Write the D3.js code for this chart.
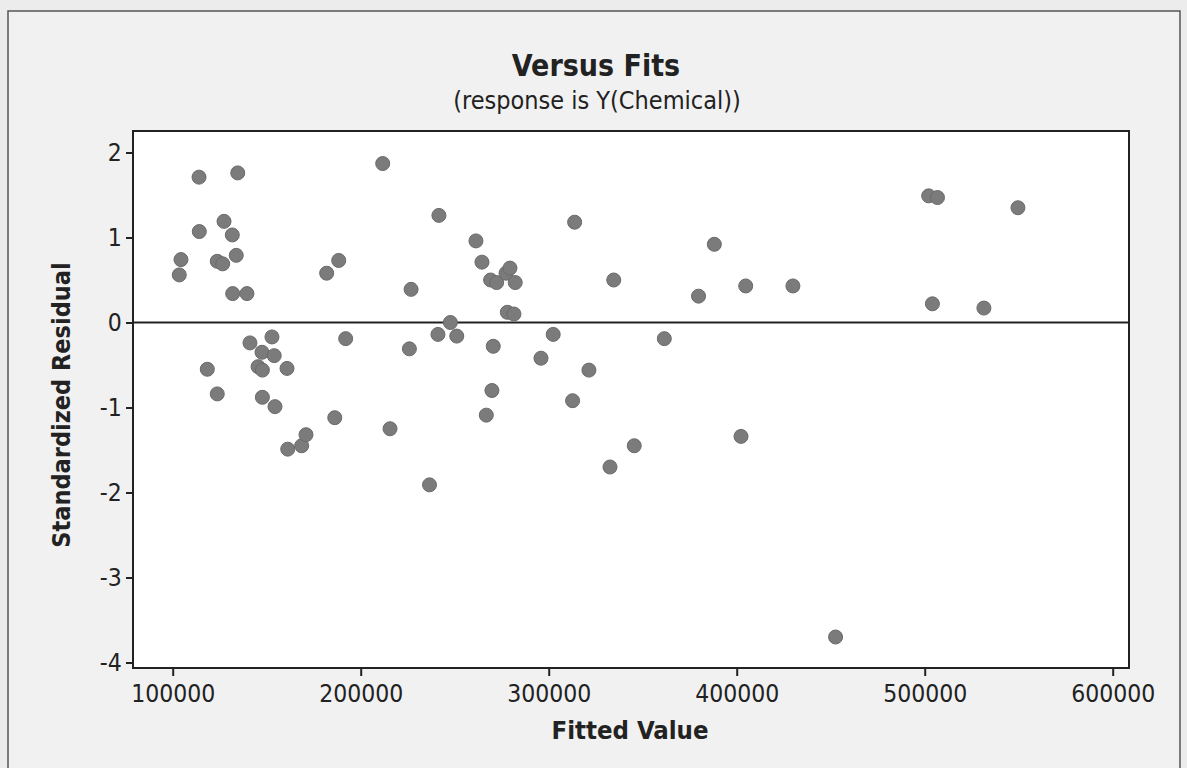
<!DOCTYPE html>
<html>
<head>
<meta charset="utf-8">
<script src="https://cdn.jsdelivr.net/npm/d3@7/dist/d3.min.js"></script>
<style>
  html, body { margin: 0; padding: 0; background: #ececec; }
  svg { display: block; }
</style>
</head>
<body>
<script>
// fitted values and standardized residuals
const fitted = [
  103500, 104400, 114000, 114150, 118400, 123700, 123700, 126600, 127300, 131700,
  133800, 134600, 131900, 139500, 141100, 145400, 147700, 147500, 152800, 154000,
  147700, 154400, 160800, 161200, 168600, 170900, 181900, 188300, 192000, 186200,
  211700, 215600, 225900, 226800, 236600, 241600, 241100, 247700, 251100, 261300,
  264500, 266800, 269800, 269100, 272300, 270500, 277300, 279400, 282200, 278000,
  281500, 295900, 302400, 312700, 313800, 321400, 332600, 334600, 345500, 361500,
  379700, 388100, 402300, 404800, 429900, 452600, 502100, 506800, 504100, 531500,
  549600
];
const residuals = [
  0.56, 0.74, 1.71, 1.07, -0.55, -0.84, 0.72, 0.69, 1.19, 1.03,
  0.79, 1.76, 0.34, 0.34, -0.24, -0.52, -0.56, -0.35, -0.17, -0.39,
  -0.88, -0.99, -0.54, -1.49, -1.45, -1.32, 0.58, 0.73, -0.19, -1.12,
  1.87, -1.25, -0.31, 0.39, -1.91, 1.26, -0.14, 0.00, -0.16, 0.96,
  0.71, -1.09, -0.80, 0.50, 0.47, -0.28, 0.58, 0.64, 0.47, 0.12,
  0.10, -0.42, -0.14, -0.92, 1.18, -0.56, -1.70, 0.50, -1.45, -0.19,
  0.31, 0.92, -1.34, 0.43, 0.43, -3.70, 1.49, 1.47, 0.22, 0.17,
  1.35
];
const xTicks = [100000, 200000, 300000, 400000, 500000, 600000];
const yTicks = [-4, -3, -2, -1, 0, 1, 2];

const W = 1187, H = 768;
const box = { left: 133, right: 1129, top: 131, bottom: 668 };
const font = '"DejaVu Sans Condensed", "DejaVu Sans", sans-serif';

const svg = d3.select('body').append('svg').attr('width', W).attr('height', H);

// paper frame
svg.append('rect').attr('x', 8).attr('y', 11).attr('width', 1172).attr('height', 800)
  .attr('fill', '#f1f1f1').attr('stroke', '#555').attr('stroke-width', 1.5);

const x = d3.scaleLinear().domain([100000, 600000]).range([172.7, 1112.7]);
const y = d3.scaleLinear().domain([-4, 2]).range([662.5, 152.5]);

// plot area
svg.append('rect')
  .attr('x', box.left).attr('y', box.top)
  .attr('width', box.right - box.left).attr('height', box.bottom - box.top)
  .attr('fill', '#fff').attr('stroke', '#222').attr('stroke-width', 2);

// axes
const xAxis = svg.append('g')
  .attr('transform', `translate(0,${box.bottom})`)
  .call(d3.axisBottom(x).tickValues(xTicks).tickFormat(d3.format('d')).tickSize(8).tickSizeOuter(0));
const yAxis = svg.append('g')
  .attr('transform', `translate(${box.left},0)`)
  .call(d3.axisLeft(y).tickValues(yTicks).tickFormat(d => d < 0 ? '-' + Math.abs(d) : d).tickSize(7).tickSizeOuter(0));

[xAxis, yAxis].forEach(g => {
  g.select('.domain').remove();
  g.selectAll('line').attr('stroke', '#222').attr('stroke-width', 2);
  g.selectAll('text').attr('fill', '#222').style('font-family', font).style('font-size', '24.5px');
});
xAxis.selectAll('text').attr('dy', '0.92em');
yAxis.selectAll('text').attr('dx', '-0.05em');

// zero reference line
svg.append('line')
  .attr('x1', box.left).attr('x2', box.right)
  .attr('y1', y(0)).attr('y2', y(0))
  .attr('stroke', '#222').attr('stroke-width', 2);

// points
svg.append('g').selectAll('circle')
  .data(fitted.map((f, i) => ({ f: f, r: residuals[i] })))
  .join('circle')
  .attr('cx', d => x(d.f))
  .attr('cy', d => y(d.r))
  .attr('r', 7)
  .attr('fill', '#7b7b7b')
  .attr('stroke', '#6a6a6a')
  .attr('stroke-width', 1);

// titles
svg.append('text')
  .attr('x', 596).attr('y', 76)
  .attr('text-anchor', 'middle')
  .style('font-family', font).style('font-weight', 'bold').style('font-size', '30px')
  .attr('fill', '#222')
  .text('Versus Fits');
svg.append('text')
  .attr('x', 597).attr('y', 109)
  .attr('text-anchor', 'middle')
  .style('font-family', font).style('font-size', '25px')
  .attr('fill', '#222')
  .text('(response is Y(Chemical))');

svg.append('text')
  .attr('x', 630).attr('y', 739)
  .attr('text-anchor', 'middle')
  .style('font-family', font).style('font-weight', 'bold').style('font-size', '25.5px')
  .attr('fill', '#222')
  .text('Fitted Value');
svg.append('text')
  .attr('transform', 'translate(70,405) rotate(-90)')
  .attr('text-anchor', 'middle')
  .style('font-family', font).style('font-weight', 'bold').style('font-size', '25px')
  .attr('fill', '#222')
  .text('Standardized Residual');
</script>
</body>
</html>
